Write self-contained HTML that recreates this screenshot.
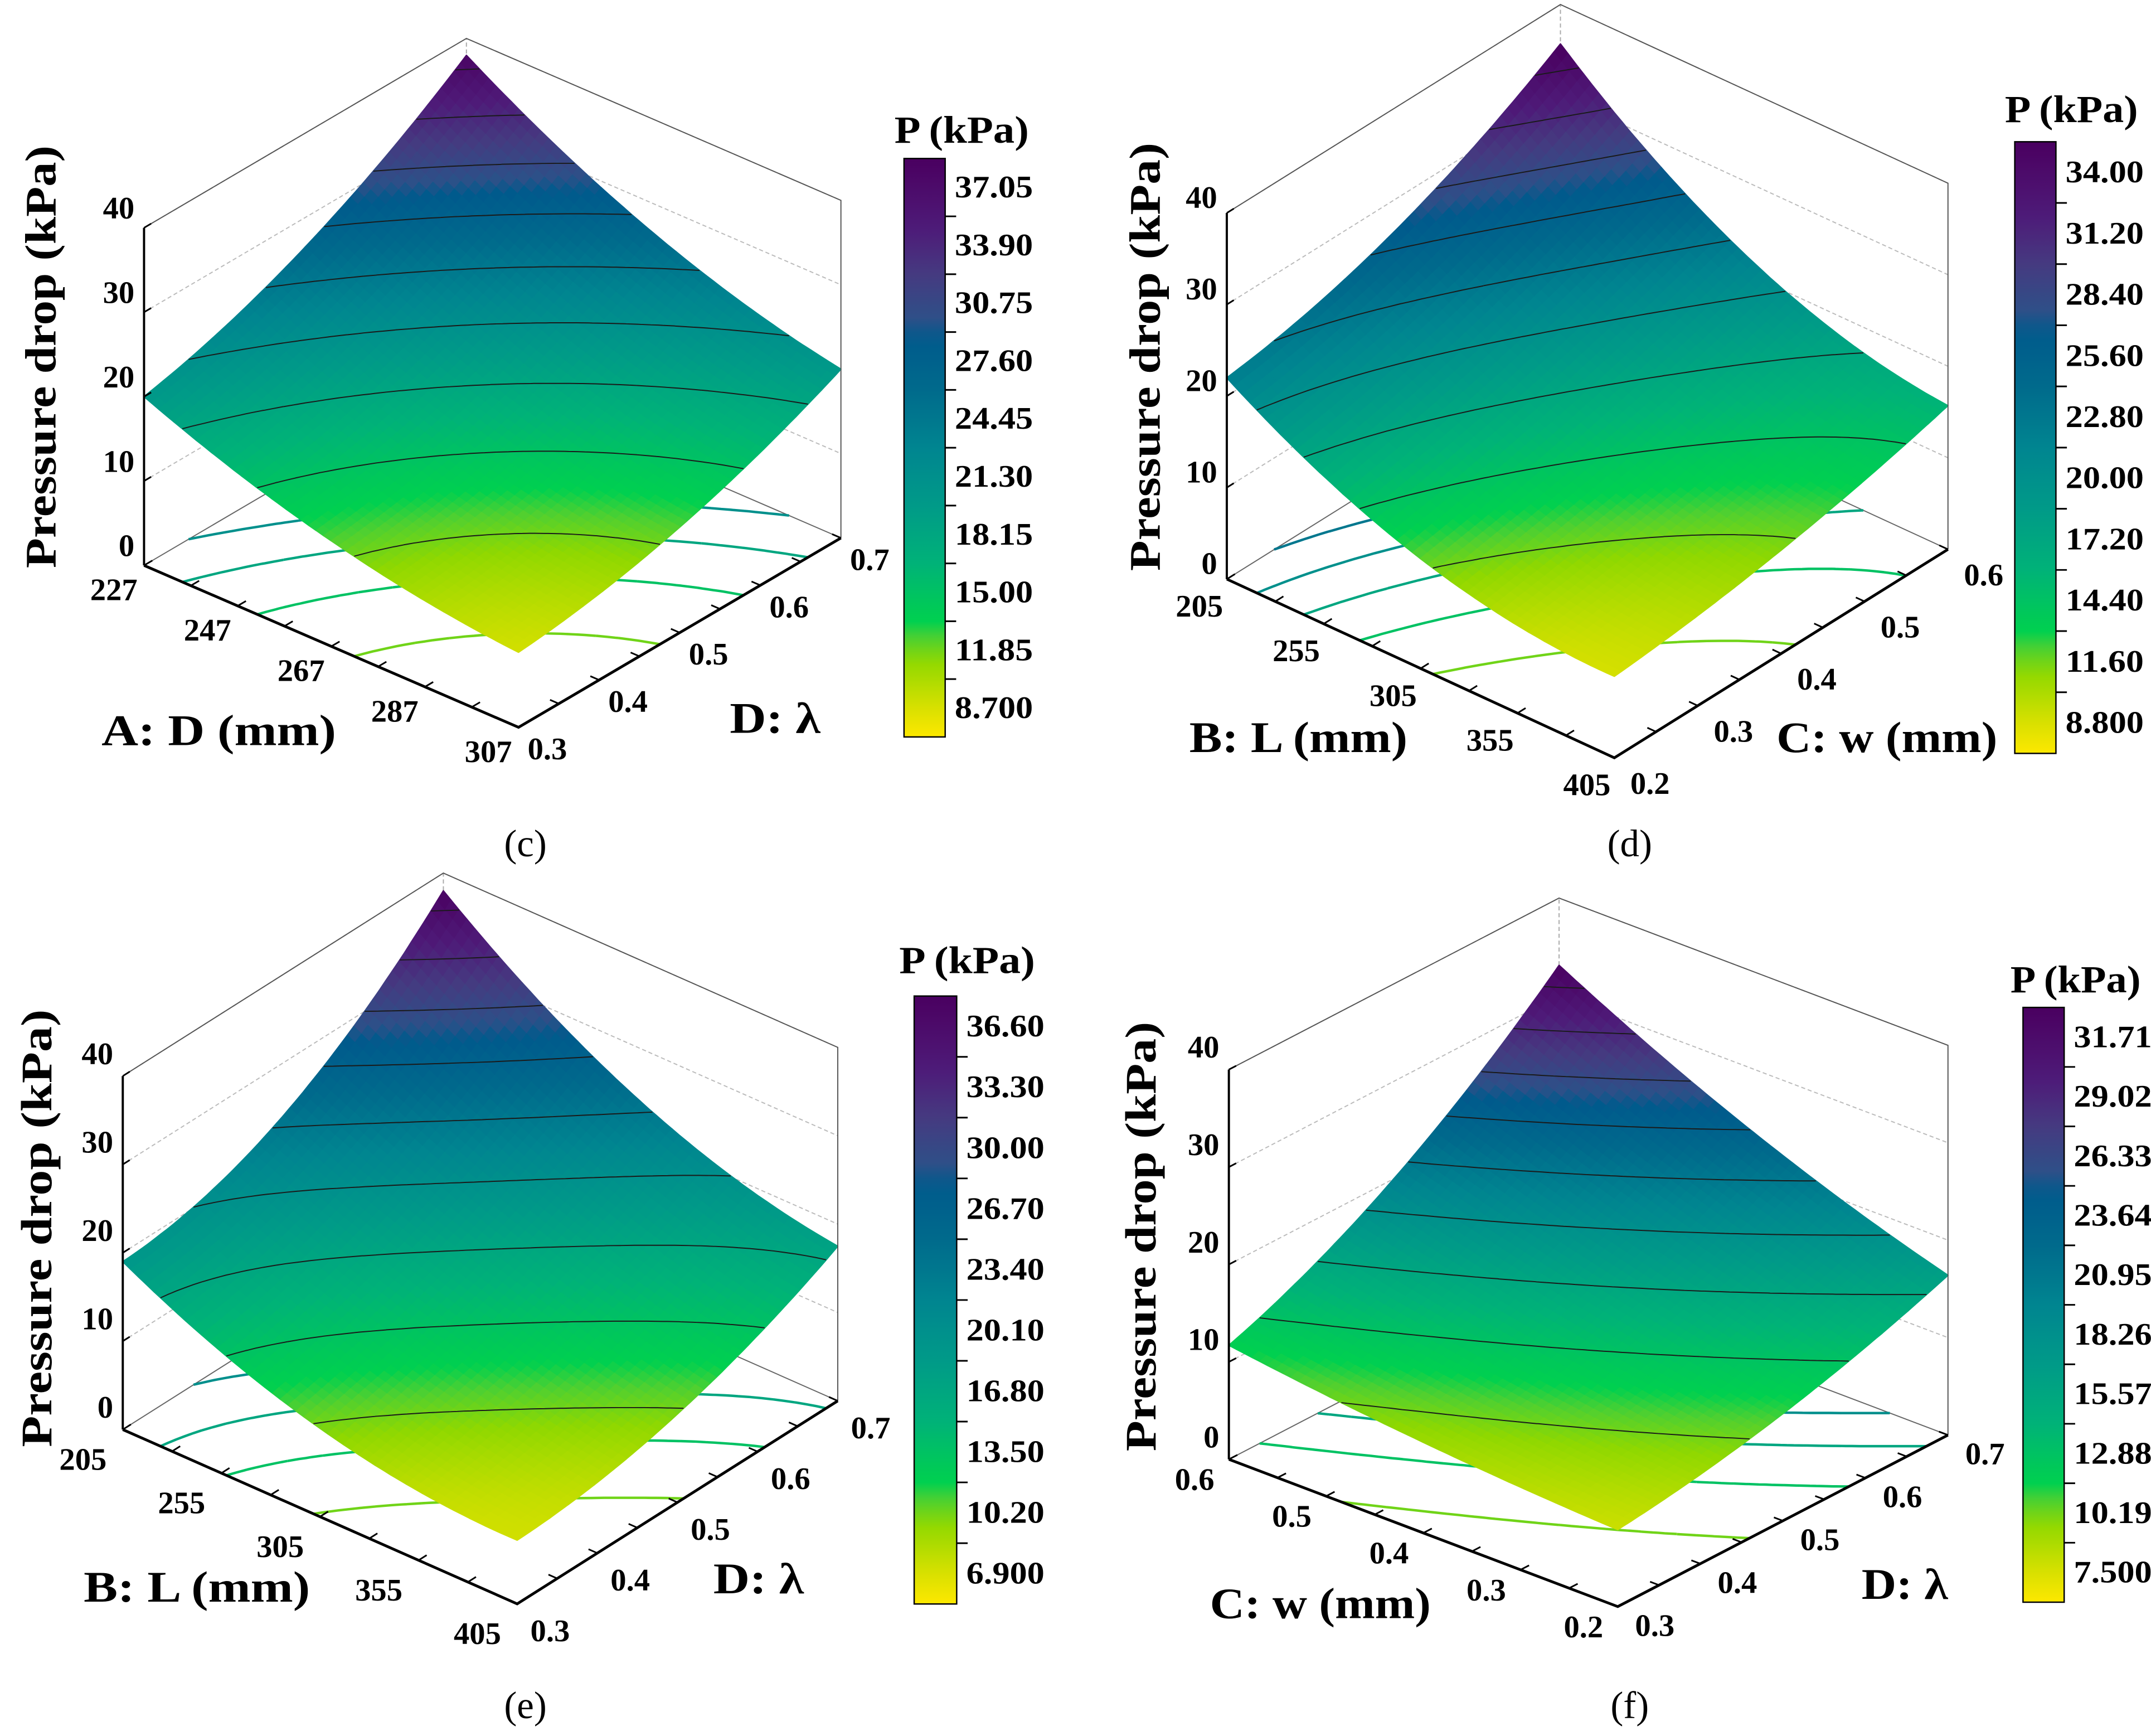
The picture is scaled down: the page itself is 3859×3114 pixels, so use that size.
<!DOCTYPE html>
<html><head><meta charset="utf-8"><title>Pressure drop response surfaces</title>
<style>
html,body{margin:0;padding:0;background:#fff;}
svg{display:block;font-family:"Liberation Serif","DejaVu Serif","Noto Serif CJK SC",serif;}
svg text{font-family:"Liberation Serif","DejaVu Serif","Noto Serif CJK SC",serif !important;fill:#000;}
.ttl{font-weight:bold;font-size:32px;}
.tick{font-weight:bold;font-size:23px;}
.cap{font-size:28px;}
</style></head>
<body>
<svg id="fig" xmlns="http://www.w3.org/2000/svg" width="3859" height="3114" viewBox="0 0 1568 1265" preserveAspectRatio="none" font-family="Liberation Serif, DejaVu Serif, serif">
<defs>
<linearGradient id="vir" x1="0" y1="1" x2="0" y2="0"></linearGradient>
</defs>
<rect x="0" y="0" width="1568" height="1265" fill="#fff"/>
<g id="panel-c"></g>
<g id="panel-d"></g>
<g id="panel-e"></g>
<g id="panel-f"></g>

<text class="ttl" x="30" y="260" text-anchor="middle" dominant-baseline="central" transform="rotate(-90 30 260)" textLength="308" lengthAdjust="spacingAndGlyphs">Pressure drop (kPa)</text>
<text class="ttl" x="74" y="543" textLength="171" lengthAdjust="spacingAndGlyphs">A: D (mm)</text>
<text class="ttl" x="532" y="534" textLength="66" lengthAdjust="spacingAndGlyphs">D: λ</text>
<text class="ttl" x="701" y="104" text-anchor="middle" textLength="98" lengthAdjust="spacingAndGlyphs" style="font-size:28px">P (kPa)</text>
<text class="cap" x="383" y="624" text-anchor="middle">(c)</text>

<text class="ttl" x="835" y="260" text-anchor="middle" dominant-baseline="central" transform="rotate(-90 835 260)" textLength="312" lengthAdjust="spacingAndGlyphs">Pressure drop (kPa)</text>
<text class="ttl" x="867" y="548" textLength="159" lengthAdjust="spacingAndGlyphs">B: L (mm)</text>
<text class="ttl" x="1295" y="548" textLength="161" lengthAdjust="spacingAndGlyphs">C: w (mm)</text>
<text class="ttl" x="1510" y="89" text-anchor="middle" textLength="97" lengthAdjust="spacingAndGlyphs" style="font-size:28px">P (kPa)</text>
<text class="cap" x="1188" y="624" text-anchor="middle">(d)</text>

<text class="ttl" x="27" y="895" text-anchor="middle" dominant-baseline="central" transform="rotate(-90 27 895)" textLength="319" lengthAdjust="spacingAndGlyphs">Pressure drop (kPa)</text>
<text class="ttl" x="61" y="1167" textLength="165" lengthAdjust="spacingAndGlyphs">B: L (mm)</text>
<text class="ttl" x="520" y="1161" textLength="66" lengthAdjust="spacingAndGlyphs">D: λ</text>
<text class="ttl" x="705" y="709" text-anchor="middle" textLength="99" lengthAdjust="spacingAndGlyphs" style="font-size:28px">P (kPa)</text>
<text class="cap" x="383" y="1252" text-anchor="middle">(e)</text>

<text class="ttl" x="832" y="901" text-anchor="middle" dominant-baseline="central" transform="rotate(-90 832 901)" textLength="313" lengthAdjust="spacingAndGlyphs">Pressure drop (kPa)</text>
<text class="ttl" x="882" y="1179" textLength="161" lengthAdjust="spacingAndGlyphs">C: w (mm)</text>
<text class="ttl" x="1357" y="1165" textLength="63" lengthAdjust="spacingAndGlyphs">D: λ</text>
<text class="ttl" x="1513" y="723" text-anchor="middle" textLength="95" lengthAdjust="spacingAndGlyphs" style="font-size:28px">P (kPa)</text>
<text class="cap" x="1188" y="1252" text-anchor="middle">(f)</text>
</svg>

<script>
// ---------- Panel (c): A: D (mm) x D: λ ----------
const cTicksA = [227, 247, 267, 287, 307];
const cTicksLambda = [0.3, 0.4, 0.5, 0.6, 0.7];
const cTicksZ = [0, 10, 20, 30, 40];
const cBarLabels = ['37.05', '33.90', '30.75', '27.60', '24.45', '21.30', '18.15', '15.00', '11.85', '8.700'];
// pressure (kPa) at λ = 0.3, 0.5, 0.7
const cPressureD227 = [20.0, 26.5, 38.0];
const cPressureD267 = [12.5, 17.0, 26.5];
const cPressureD307 = [8.9, 12.5, 20.0];

// ---------- Panel (d): B: L (mm) x C: w (mm) ----------
const dTicksL = [205, 255, 305, 355, 405];
const dTicksW = [0.2, 0.3, 0.4, 0.5, 0.6];
const dTicksZ = [0, 10, 20, 30, 40];
const dBarLabels = ['34.00', '31.20', '28.40', '25.60', '22.80', '20.00', '17.20', '14.40', '11.60', '8.800'];
// pressure at w = 0.2, 0.4, 0.6
const dPressureL205 = [22.0, 26.5, 35.7];
const dPressureL305 = [12.0, 16.0, 21.5];
const dPressureL405 = [8.9, 11.3, 15.7];

// ---------- Panel (e): B: L (mm) x D: λ ----------
const eTicksL = [205, 255, 305, 355, 405];
const eTicksLambda = [0.3, 0.4, 0.5, 0.6, 0.7];
const eTicksZ = [0, 10, 20, 30, 40];
const eBarLabels = ['36.60', '33.30', '30.00', '26.70', '23.40', '20.10', '16.80', '13.50', '10.20', '6.900'];
// pressure at λ = 0.3, 0.5, 0.7
const ePressureL205 = [19.0, 24.0, 38.0];
const ePressureL305 = [10.0, 15.5, 24.0];
const ePressureL405 = [7.2, 10.0, 17.5];

// ---------- Panel (f): C: w (mm) x D: λ ----------
const fTicksW = [0.6, 0.5, 0.4, 0.3, 0.2];
const fTicksLambda = [0.3, 0.4, 0.5, 0.6, 0.7];
const fTicksZ = [0, 10, 20, 30, 40];
const fBarLabels = ['31.71', '29.02', '26.33', '23.64', '20.95', '18.26', '15.57', '12.88', '10.19', '7.500'];
// pressure at λ = 0.3, 0.5, 0.7
const fPressureW06 = [11.7, 20.0, 33.1];
const fPressureW04 = [9.3, 14.8, 23.5];
const fPressureW02 = [7.9, 11.0, 16.4];

const NS = 'http://www.w3.org/2000/svg';
const STOPS = [[0,'#fde800'],[0.05,'#d8e000'],[0.13,'#90d800'],[0.17,'#50d030'],[0.20,'#00d050'],[0.23,'#00c85a'],[0.30,'#00b278'],[0.40,'#009a88'],[0.50,'#008590'],[0.60,'#006a8c'],[0.69,'#005a8c'],[0.72,'#2d5088'],[0.80,'#453a80'],[0.88,'#4e1a78'],[1,'#4a0060']]
  .map(s => [s[0], [parseInt(s[1].substr(1,2),16), parseInt(s[1].substr(3,2),16), parseInt(s[1].substr(5,2),16)]]);
function cmap(t){
  t = Math.max(0, Math.min(1, t));
  for (let i = 1; i < STOPS.length; i++) {
    if (t <= STOPS[i][0]) {
      const a = STOPS[i-1], b = STOPS[i], f = (t - a[0]) / (b[0] - a[0]);
      return 'rgb(' + a[1].map((c, j) => Math.round(c + (b[1][j] - c) * f)).join(',') + ')';
    }
  }
  return 'rgb(74,0,96)';
}
const grad = document.getElementById('vir');
for (let i = 0; i <= 40; i++) {
  const s = document.createElementNS(NS, 'stop');
  s.setAttribute('offset', i / 40);
  s.setAttribute('stop-color', cmap(i / 40));
  grad.appendChild(s);
}
function mk(tag, attrs, parent){
  const e = document.createElementNS(NS, tag);
  for (const k in attrs) e.setAttribute(k, attrs[k]);
  parent.appendChild(e);
  return e;
}
function lb(t){ return [2*(t-0.5)*(t-1), -4*t*(t-1), 2*t*(t-0.5)]; }
function surf(rows, u, v){
  const bu = lb(u), bv = lb(v); let s = 0;
  for (let i = 0; i < 3; i++) for (let j = 0; j < 3; j++) s += bu[i] * bv[j] * rows[i][j];
  return s;
}

function drawPanel(gid, G, uTicks, vTicks, zTicks, barLabels, rows){
  const g = document.getElementById(gid);
  const L = G.L, F = G.F, R = G.R, k = G.k, zTop = 40;
  const P = (u, v, z) => [L[0] + u*(F[0]-L[0]) + v*(R[0]-F[0]), L[1] + u*(F[1]-L[1]) + v*(R[1]-F[1]) - z*k];
  const levels = barLabels.map(Number);
  const step = levels[0] - levels[1];
  const zMax = levels[0] + step/2, zMin = levels[levels.length-1] - step/2;
  const col = z => cmap((z - zMin) / (zMax - zMin));

  zTicks.forEach(z => {
    if (z === 0) return;
    const a = P(0,0,z), b = P(0,1,z), c = P(1,1,z);
    const gl = mk('polyline', {points: a.join(',')+' '+b.join(',')+' '+c.join(','), fill:'none', stroke:'#bbb', 'stroke-width':0.8, 'stroke-dasharray':'3,2'}, g);
    
    
  });
  const b0 = P(0,1,0), b1 = P(0,1,zTop);
  const bv = mk('line', {x1:b0[0], y1:b0[1], x2:b1[0], y2:b1[1], stroke:'#aaa', 'stroke-width':0.8, 'stroke-dasharray':'3,2'}, g);
  
  
  const pl = P(0,0,0), pb = P(0,1,0), pr = P(1,1,0);
  const fe = mk('polyline', {points: pl.join(',')+' '+pb.join(',')+' '+pr.join(','), fill:'none', stroke:'#666', 'stroke-width':0.8}, g);
  
  

  const N = 50, V = [];
  for (let i = 0; i <= N; i++) { V.push([]); for (let j = 0; j <= N; j++) V[i].push(surf(rows, i/N, j/N)); }

  function contourPath(lv, zProj){
    let d = '';
    for (let i = 0; i < N; i++) for (let j = 0; j < N; j++) {
      const c = [[i,j],[i+1,j],[i+1,j+1],[i,j+1]];
      const pts = [];
      for (let e = 0; e < 4; e++) {
        const a = c[e], b = c[(e+1)%4];
        const va = V[a[0]][a[1]], vb = V[b[0]][b[1]];
        if ((va - lv) * (vb - lv) < 0) {
          const t = (lv - va) / (vb - va);
          const u = (a[0] + t*(b[0]-a[0])) / N, v = (a[1] + t*(b[1]-a[1])) / N;
          pts.push(P(u, v, zProj === null ? lv : zProj));
        }
      }
      for (let p = 0; p + 1 < pts.length; p += 2)
        d += 'M' + pts[p][0].toFixed(1) + ' ' + pts[p][1].toFixed(1) + 'L' + pts[p+1][0].toFixed(1) + ' ' + pts[p+1][1].toFixed(1);
    }
    return d;
  }
  levels.forEach(lv => {
    const d = contourPath(lv, 0);
    if (!d) return;
    const fc = mk('path', {d: d, fill:'none', stroke: col(lv), 'stroke-width':1.8}, g);
    
    
  });
  const quads = [];
  for (let i = 0; i < N; i++) for (let j = 0; j < N; j++) quads.push([i, j]);
  quads.sort((a, b) => (a[0] - a[1]) - (b[0] - b[1]));
  const sg = mk('g', {}, g);
  
  
  quads.forEach(q => {
    const i = q[0], j = q[1];
    const cs = [[i,j],[i+1,j],[i+1,j+1],[i,j+1]];
    const pts = cs.map(c => P(c[0]/N, c[1]/N, V[c[0]][c[1]]));
    const zm = cs.reduce((s, c) => s + V[c[0]][c[1]], 0) / 4;
    const cl = col(zm);
    const pg = mk('polygon', {points: pts.map(p => p[0].toFixed(1)+','+p[1].toFixed(1)).join(' '), fill: cl, stroke: cl, 'stroke-width':1, 'stroke-linejoin':'round'}, sg);
    
    
  });
  levels.forEach(lv => {
    const d = contourPath(lv, null);
    if (!d) return;
    const sc = mk('path', {d: d, fill:'none', stroke:'#1a1a1a', 'stroke-width':0.8}, g);
    
    
  });
  const t0 = P(0,0,zTop), t1 = P(0,1,zTop), t2 = P(1,1,zTop), r0 = P(1,1,0);
  const te = mk('polyline', {points: t0.join(',')+' '+t1.join(',')+' '+t2.join(',')+' '+r0.join(','), fill:'none', stroke:'#555', 'stroke-width':0.8}, g);
  
  
  const za = mk('line', {x1:pl[0], y1:pl[1], x2:t0[0], y2:t0[1], stroke:'#000', 'stroke-width':1.6}, g);
  
  
  const pf = P(1,0,0);
  const fa = mk('polyline', {points: pl.join(',')+' '+pf.join(',')+' '+pr.join(','), fill:'none', stroke:'#000', 'stroke-width':2}, g);
  
  

  const ev = [R[0]-F[0], R[1]-F[1]], evl = Math.hypot(ev[0], ev[1]);
  const eu = [L[0]-F[0], L[1]-F[1]], eul = Math.hypot(eu[0], eu[1]);
  let td = '';
  const nu = uTicks.length - 1, nv = vTicks.length - 1;
  for (let s = 0; s <= 2*nu; s++) { const p = P(s/(2*nu), 0, 0); td += 'M'+p[0]+' '+p[1]+'l'+(ev[0]/evl*7)+' '+(ev[1]/evl*7); }
  for (let s = 0; s <= 2*nv; s++) { const p = P(1, s/(2*nv), 0); td += 'M'+p[0]+' '+p[1]+'l'+(eu[0]/eul*7)+' '+(eu[1]/eul*7); }
  zTicks.forEach(z => { const p = P(0,0,z); td += 'M'+p[0]+' '+p[1]+'l'+(ev[0]/evl*6)+' '+(ev[1]/evl*6); });
  const tk = mk('path', {d: td, stroke:'#000', 'stroke-width':1.2, fill:'none'}, g);
  
  

  uTicks.forEach((val, i) => {
    const p = P(i/nu, 0, 0);
    const t = mk('text', {x: p[0] + G.uOff[0], y: p[1] + G.uOff[1], 'text-anchor':'middle', 'dominant-baseline':'central', class:'tick'}, g);
    t.textContent = val;
    
    
  });
  vTicks.forEach((val, i) => {
    const p = P(1, i/nv, 0);
    const t = mk('text', {x: p[0] + G.vOff[0], y: p[1] + G.vOff[1], 'text-anchor':'middle', 'dominant-baseline':'central', class:'tick'}, g);
    t.textContent = val.toFixed(1);
    
    
  });
  zTicks.forEach(z => {
    const p = P(0, 0, z);
    const t = mk('text', {x: p[0] - 7, y: p[1] + G.zOff, 'text-anchor':'end', 'dominant-baseline':'central', class:'tick'}, g);
    t.textContent = z;
    
    
  });

  const B = G.bar;
  const cb = mk('rect', {x: B.x, y: B.y, width: B.w, height: B.h, fill:'url(#vir)', stroke:'#000', 'stroke-width':1}, g);
  
  
  const nb = barLabels.length, bh = B.h / nb;
  let cd = '';
  for (let i = 1; i < nb; i++) cd += 'M' + (B.x + B.w) + ' ' + (B.y + i*bh) + 'h8';
  const ct = mk('path', {d: cd, stroke:'#000', 'stroke-width':1.2}, g);
  
  
  barLabels.forEach((lab, i) => {
    const t = mk('text', {x: B.x + B.w + 7, y: B.y + (i + 0.5)*bh, 'dominant-baseline':'central', class:'tick', textLength: 57, lengthAdjust:'spacingAndGlyphs'}, g);
    t.textContent = lab;
    
    
  });
}

drawPanel('panel-c', {L:[105,412], F:[378,530], R:[613,392], k:6.15, uOff:[-22,18], vOff:[21,16], zOff:-14,
  bar:{x:659, y:115.5, w:30, h:421.5}}, cTicksA, cTicksLambda, cTicksZ, cBarLabels, [cPressureD227, cPressureD267, cPressureD307]);
drawPanel('panel-d', {L:[894.3,422], F:[1176.8,552.2], R:[1420,400.3], k:6.67, uOff:[-20,20], vOff:[26,19], zOff:-11,
  bar:{x:1468.7, y:103.3, w:30, h:445.7}}, dTicksL, dTicksW, dTicksZ, dBarLabels, [dPressureL205, dPressureL305, dPressureL405]);
drawPanel('panel-e', {L:[89.5,1041.7], F:[377,1168.7], R:[610.7,1020.8], k:6.44, uOff:[-29,22], vOff:[24,20], zOff:-16,
  bar:{x:666.4, y:725.8, w:31, h:443}}, eTicksL, eTicksLambda, eTicksZ, eBarLabels, [ePressureL205, ePressureL305, ePressureL405]);
drawPanel('panel-f', {L:[895.8,1063.4], F:[1179.3,1170.7], R:[1420,1045.7], k:7.1, uOff:[-25,15], vOff:[27,14], zOff:-16,
  bar:{x:1474.7, y:734.1, w:30, h:433.4}}, fTicksW, fTicksLambda, fTicksZ, fBarLabels, [fPressureW06, fPressureW04, fPressureW02]);
</script>
</body></html>
